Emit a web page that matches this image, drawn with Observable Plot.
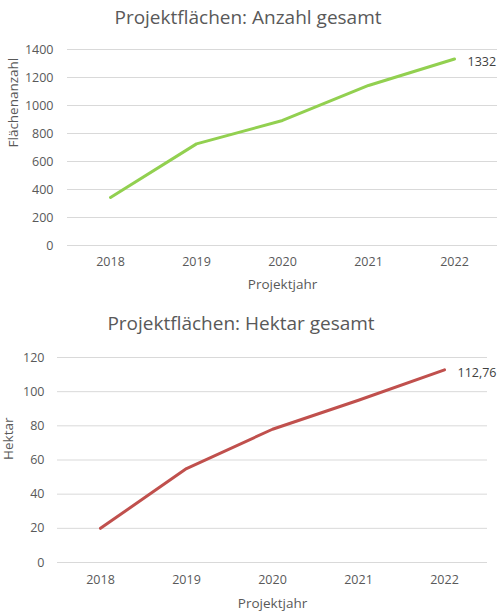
<!DOCTYPE html>
<html><head><meta charset="utf-8">
<script src="https://cdn.jsdelivr.net/npm/d3@7"></script>
<script src="https://cdn.jsdelivr.net/npm/@observablehq/plot@0.6"></script>
<style>
body{margin:0;background:#fff;font-family:"Open Sans",sans-serif;}
#wrap{position:relative;width:497px;height:613px;overflow:hidden;}
.title{position:absolute;left:0;text-align:center;color:#595959;font-size:19px;white-space:nowrap;}
.chart{position:absolute;left:0;overflow:visible;}
</style></head>
<body><div id="wrap"></div>
<script>
const years = ["2018","2019","2020","2021","2022"];
const anzahl = [343, 726, 893, 1143, 1332];
const hektar = [20, 55, 78, 95, 112.76];
const anzahlTicks = [0,200,400,600,800,1000,1200,1400];
const hektarTicks = [0,20,40,60,80,100,120];
const title1 = "Projektflächen: Anzahl gesamt";
const title2 = "Projektflächen: Hektar gesamt";
const yLabel1 = "Flächenanzahl";
const yLabel2 = "Hektar";
const xLabel = "Projektjahr";

const deFmt = v => String(v).replace(".", ",");
const grey = "#595959";

function makeChart({values, ticks, yMax, color, ylab, height, mt, mb, ml, mr, tickPad, xTickDy, xLabDy, yLabDx}) {
  const data = years.map((y, i) => ({year: y, value: values[i]}));
  const last = data[data.length - 1];
  return Plot.plot({
    width: 497, height,
    marginTop: mt, marginBottom: mb, marginLeft: ml, marginRight: mr,
    style: {fontFamily: '"Open Sans",sans-serif', fontSize: "12px", color: grey, background: "transparent", overflow: "visible"},
    x: {type: "point", domain: years, padding: 0.5, label: null},
    y: {domain: [0, yMax], label: null},
    marks: [
      Plot.ruleY(ticks, {stroke: "#d9d9d9", strokeWidth: 1, strokeOpacity: 1}),
      Plot.axisY(ticks, {tickSize: 0, tickPadding: tickPad, tickFormat: d => String(d), label: null, fill: grey, fontSize: 12.5}),
      Plot.axisX(years, {tickSize: 0, tickPadding: xTickDy, label: null, fill: grey, fontSize: 12.5}),
      Plot.lineY(data, {x: "year", y: "value", stroke: color, strokeWidth: 3, strokeLinecap: "round"}),
      Plot.text([last], {x: "year", y: "value", text: d => deFmt(d.value), textAnchor: "start", dx: 13, dy: 3, fill: "#404040", fontSize: 12.5}),
      Plot.text([ylab], {frameAnchor: "left", text: d => d, rotate: -90, dx: yLabDx, fill: grey, fontSize: 13.5}),
      Plot.text([xLabel], {frameAnchor: "bottom", text: d => d, dy: xLabDy, fill: grey, fontSize: 13.5})
    ]
  });
}

const wrap = document.getElementById("wrap");
function addTitle(text, top, h, cx) {
  const d = document.createElement("div");
  d.className = "title"; d.textContent = text;
  d.style.top = top + "px"; d.style.height = h + "px"; d.style.lineHeight = h + "px";
  d.style.left = (cx - 250) + "px"; d.style.width = "500px";
  wrap.appendChild(d);
}
function addChart(svg, top) {
  svg.classList.add("chart"); svg.style.top = top + "px";
  wrap.appendChild(svg);
}

addTitle(title1, 0, 34, 248);
addChart(makeChart({values: anzahl, ticks: anzahlTicks, yMax: 1400, color: "#92D050", ylab: yLabel1,
  height: 264, mt: 13, mb: 55, ml: 67, mr: 0, tickPad: 14, xTickDy: 12, xLabDy: 43, yLabDx: -54}), 36);

addTitle(title2, 304, 38, 241);
addChart(makeChart({values: hektar, ticks: hektarTicks, yMax: 120, color: "#C0504D", ylab: yLabel2,
  height: 273, mt: 17, mb: 51, ml: 57, mr: 10, tickPad: 13, xTickDy: 13, xLabDy: 45, yLabDx: -49}), 340);
</script></body></html>
